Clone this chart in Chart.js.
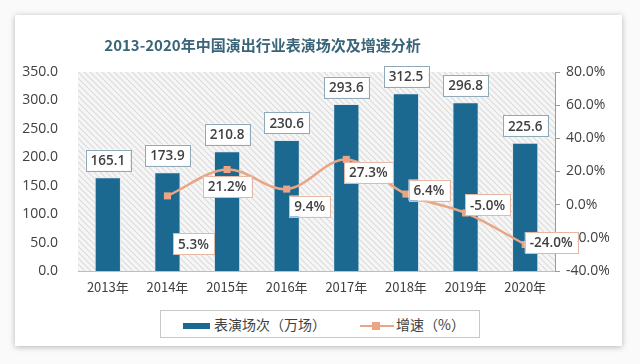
<!DOCTYPE html>
<html>
<head>
    <meta charset="utf-8">
    <title>2013-2020年中国演出行业表演场次及增速分析</title>
    <script src="https://cdn.jsdelivr.net/npm/chart.js"></script>
    <style>
        body { margin: 0; background: #f4f4f4; font-family: "Noto Sans CJK SC", "Open Sans", sans-serif; }
        #wrap { position: relative; width: 640px; height: 364px; overflow: hidden; background: #fafafa; }
        #card { position: absolute; left: 15px; top: 15px; width: 607px; height: 331px; background: #fff;
                box-shadow: 0 1px 6px rgba(0,0,0,0.28); }
        #title { position: absolute; left: 0; width: 525px; top: 34px; text-align: center;
                 font-size: 15px; font-weight: bold; color: #3a6478; }
        #legend { position: absolute; left: 160px; top: 310px; width: 320px; height: 28px; box-sizing: border-box;
                  border: 1px solid #c8c8c8; background: #fff; font-size: 14px; color: #404040; }
        .item { position: absolute; top: 3px; }
        canvas { position: absolute; left: 0; top: 0; }
    </style>
</head>
<body>
<div id="wrap">
    <div id="card"></div>
    <canvas id="myChart" width="640" height="364"></canvas>
    <div id="title">2013-2020年中国演出行业表演场次及增速分析</div>
    <div id="legend">
        <span class="item" style="left:22px;"><span style="display:inline-block;width:27px;height:6px;background:#1b6890;vertical-align:middle;margin-right:4px;"></span>表演场次（万场）</span>
        <span class="item" style="left:199px;"><span style="display:inline-block;position:relative;width:34px;height:10px;vertical-align:middle;margin-right:2px;">
            <span style="position:absolute;left:0;top:4px;width:34px;height:2px;background:#e9a584;"></span>
            <span style="position:absolute;left:12px;top:1px;width:8px;height:8px;background:#e9a584;"></span>
        </span>增速（%）</span>
    </div>
</div>

<script>
    var years = ['2013年', '2014年', '2015年', '2016年', '2017年', '2018年', '2019年', '2020年'];
    var shows = [165.1, 173.9, 210.8, 230.6, 293.6, 312.5, 296.8, 225.6];
    var growth = [null, 5.3, 21.2, 9.4, 27.3, 6.4, -5.0, -24.0];

    // where each growth label sits relative to its point (dx, dy)
    var growthOffsets = [null, [26, 48], [0, 17], [23, 17], [22, 13], [23, -4], [22, -8], [26, -2]];

    var barColor = '#1b6890';
    var lineColor = '#e9a584';

    // diagonal hatch for the plot area
    function makeHatch(ctx) {
        var c = document.createElement('canvas');
        c.width = 6; c.height = 6;
        var p = c.getContext('2d');
        p.fillStyle = '#f6f6f6';
        p.fillRect(0, 0, 6, 6);
        p.strokeStyle = '#dcdcdc';
        p.lineWidth = 1.2;
        p.beginPath();
        p.moveTo(0, 0); p.lineTo(6, 6);
        p.moveTo(-3, 3); p.lineTo(3, 9);
        p.moveTo(3, -3); p.lineTo(9, 3);
        p.stroke();
        return ctx.createPattern(c, 'repeat');
    }

    function labelBox(ctx, text, cx, cy, border) {
        ctx.font = '600 13.5px "Open Sans", "Noto Sans", sans-serif';
        var w = ctx.measureText(text).width + 10;
        var h = 21;
        ctx.fillStyle = '#fff';
        ctx.fillRect(cx - w / 2, cy - h / 2, w, h);
        ctx.strokeStyle = border;
        ctx.lineWidth = 1;
        ctx.strokeRect(Math.round(cx - w / 2) + 0.5, Math.round(cy - h / 2) + 0.5, Math.round(w), h);
        ctx.fillStyle = '#404040';
        ctx.textAlign = 'center';
        ctx.textBaseline = 'middle';
        ctx.fillText(text, cx, cy + 1);
    }

    var plotBg = {
        id: 'plotBg',
        beforeDatasetsDraw(chart) {
            var a = chart.chartArea, ctx = chart.ctx;
            ctx.save();
            ctx.fillStyle = makeHatch(ctx);
            ctx.fillRect(a.left, a.top, a.right - a.left, a.bottom - a.top);
            ctx.restore();
        },
        afterDatasetsDraw(chart) {
            var ctx = chart.ctx;
            ctx.save();
            var bars = chart.getDatasetMeta(1).data;
            bars.forEach(function (b, i) {
                labelBox(ctx, shows[i].toFixed(1), b.x, b.y - 17, '#8eaaba');
            });
            var pts = chart.getDatasetMeta(0).data;
            pts.forEach(function (p, i) {
                if (growth[i] === null) return;
                var o = growthOffsets[i];
                labelBox(ctx, growth[i].toFixed(1) + '%', p.x + o[0], p.y + o[1], '#e6b7a3');
            });
            ctx.restore();
        }
    };

    var ctx = document.getElementById('myChart').getContext('2d');
    var myChart = new Chart(ctx, {
        data: {
            labels: years,
            datasets: [{
                type: 'line',
                label: '增速（%）',
                data: growth,
                yAxisID: 'y1',
                borderColor: lineColor,
                backgroundColor: lineColor,
                borderWidth: 2.5,
                tension: 0.35,
                pointStyle: 'rect',
                pointRadius: 5,
                pointBorderWidth: 0,
                spanGaps: false,
                order: 0
            }, {
                type: 'bar',
                label: '表演场次（万场）',
                data: shows,
                yAxisID: 'y',
                backgroundColor: barColor,
                borderColor: '#e2eaee',
                borderWidth: 1,
                barPercentage: 0.44,
                categoryPercentage: 1,
                order: 1
            }]
        },
        options: {
            responsive: false,
            animation: false,
            layout: { padding: { left: 0, right: 0, top: 72, bottom: 63 } },
            plugins: {
                legend: { display: false },
                tooltip: { enabled: false }
            },
            scales: {
                x: {
                    grid: { display: false, drawTicks: false },
                    border: { color: '#bfbfbf', width: 1 },
                    ticks: { color: '#404040', padding: 8, font: { size: 13, family: '"Noto Sans CJK SC", sans-serif' } },
                    afterFit(s) { s.height = 30; }
                },
                y: {
                    position: 'left',
                    min: 0, max: 350,
                    ticks: { stepSize: 50, color: '#404040', padding: 12,
                             font: { size: 14, family: '"Open Sans", sans-serif' },
                             callback: function (v) { return v.toFixed(1); } },
                    grid: { display: false },
                    border: { display: false },
                    afterFit(s) { s.width = 78; }
                },
                y1: {
                    position: 'right',
                    min: -40, max: 80,
                    ticks: { stepSize: 20, color: '#404040', padding: 6,
                             font: { size: 14, family: '"Open Sans", sans-serif' },
                             callback: function (v) { return v.toFixed(1) + '%'; } },
                    grid: { display: true, drawOnChartArea: false, drawTicks: true, tickLength: 5, color: '#9a9a9a' },
                    border: { display: true, color: '#9a9a9a', width: 1 },
                    afterFit(s) { s.width = 85; }
                }
            }
        },
        plugins: [plotBg]
    });
</script>
</body>
</html>
